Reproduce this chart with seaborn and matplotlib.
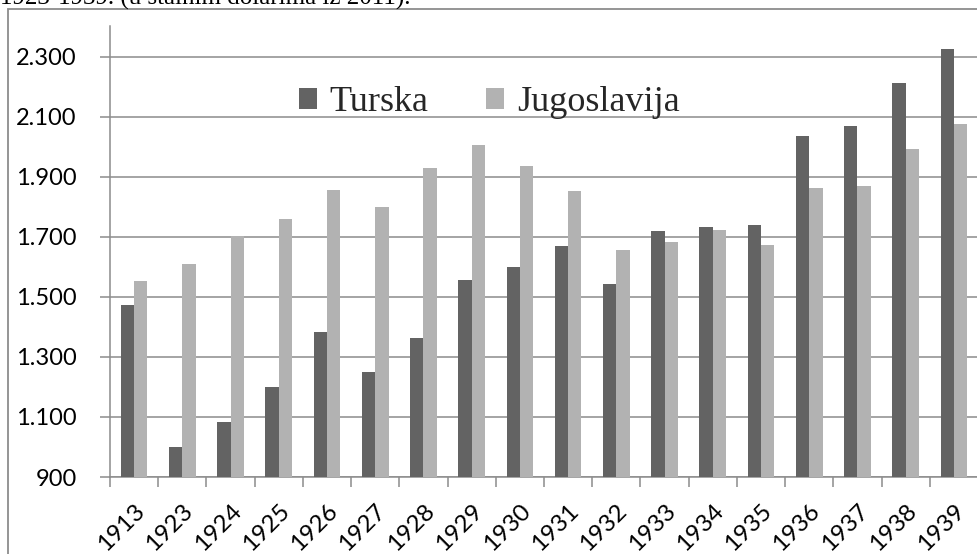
import matplotlib
matplotlib.use("Agg")
import matplotlib.pyplot as plt
import matplotlib.ticker as mticker
from matplotlib.patches import Patch, Rectangle
import seaborn as sns
import pandas as pd

# GDP per capita, constant 2011 dollars
years = ["1913", "1923", "1924", "1925", "1926", "1927", "1928", "1929", "1930",
         "1931", "1932", "1933", "1934", "1935", "1936", "1937", "1938", "1939"]
turska = [1473, 999, 1084, 1199, 1383, 1249, 1362, 1557, 1601,
          1671, 1543, 1720, 1732, 1741, 2037, 2069, 2212, 2328]
jugoslavija = [1553, 1610, 1703, 1760, 1857, 1800, 1931, 2006, 1938,
               1853, 1657, 1684, 1724, 1674, 1864, 1871, 1994, 2076]
series = ["Turska", "Jugoslavija"]
colors = ["#636363", "#b2b2b2"]

df = pd.DataFrame({
    "godina": years * 2,
    "vrijednost": turska + jugoslavija,
    "zemlja": [series[0]] * len(years) + [series[1]] * len(years),
})

sns.set_theme(style="white")
plt.rcParams["font.family"] = ["Lato", "DejaVu Sans"]

W, H = 978, 554
fig = plt.figure(figsize=(W / 100, H / 100), dpi=100)
ax = fig.add_axes([110 / W, 1 - 477 / H, 868 / W, 451 / H])

sns.barplot(data=df, x="godina", y="vrijednost", hue="zemlja",
            palette=colors, width=0.553, gap=0, ax=ax, legend=False,
            edgecolor="none", linewidth=0)
for p in ax.patches:
    p.set_zorder(3)

ax.set_ylim(900, 2403)
ax.set_xlim(-0.5, len(years) - 0.5)
ax.set_yticks(range(900, 2400, 200))
ax.yaxis.set_major_formatter(
    mticker.FuncFormatter(lambda v, _: f"{int(v):,}".replace(",", ".")))
ax.set_xlabel("")
ax.set_ylabel("")

grid_c = "#8c8c8c"
ax.grid(axis="y", color=grid_c, linewidth=1.1, zorder=0)
ax.set_axisbelow(True)
for side in ("top", "right"):
    ax.spines[side].set_visible(False)
for side in ("left", "bottom"):
    ax.spines[side].set_color(grid_c)
    ax.spines[side].set_linewidth(1.1)

# y ticks: short outward marks; x: marks between categories
ax.tick_params(axis="y", which="major", left=True, length=7, width=1.1,
               color=grid_c, pad=17, labelsize=17, labelcolor="#000000")
ax.set_xticks([i + 0.5 for i in range(-1, len(years))], minor=True)
ax.tick_params(axis="x", which="minor", bottom=True, length=7, width=1.1,
               color=grid_c)
ax.tick_params(axis="x", which="major", bottom=False, length=0, pad=17,
               labelsize=17.5, labelcolor="#000000")
for lbl in ax.get_xticklabels():
    lbl.set_rotation(45)
    lbl.set_ha("right")
    lbl.set_va("top")
    lbl.set_rotation_mode("anchor")

handles = [Patch(facecolor=c, edgecolor="none", label=s)
           for s, c in zip(series, colors)]
ax.legend(handles=handles, loc="center", bbox_to_anchor=(0.437, 0.83),
          ncol=2, frameon=False, handlelength=0.5, handleheight=0.5,
          handletextpad=0.35, columnspacing=1.6,
          prop={"family": "Liberation Serif", "size": 26})

# chart area border
fig.patches.append(Rectangle((8 / W, -0.1), 1.2, 1 - 9.5 / H + 0.1,
                             transform=fig.transFigure, fill=False,
                             edgecolor=grid_c, linewidth=1.3))

fig.text(0, 1 - 5 / H, "1923-1939. (u stalnim dolarima iz 2011).",
         family="Liberation Serif", fontsize=18, ha="left",
         va="baseline", color="#000000")

fig.savefig("out.png", dpi=100)
